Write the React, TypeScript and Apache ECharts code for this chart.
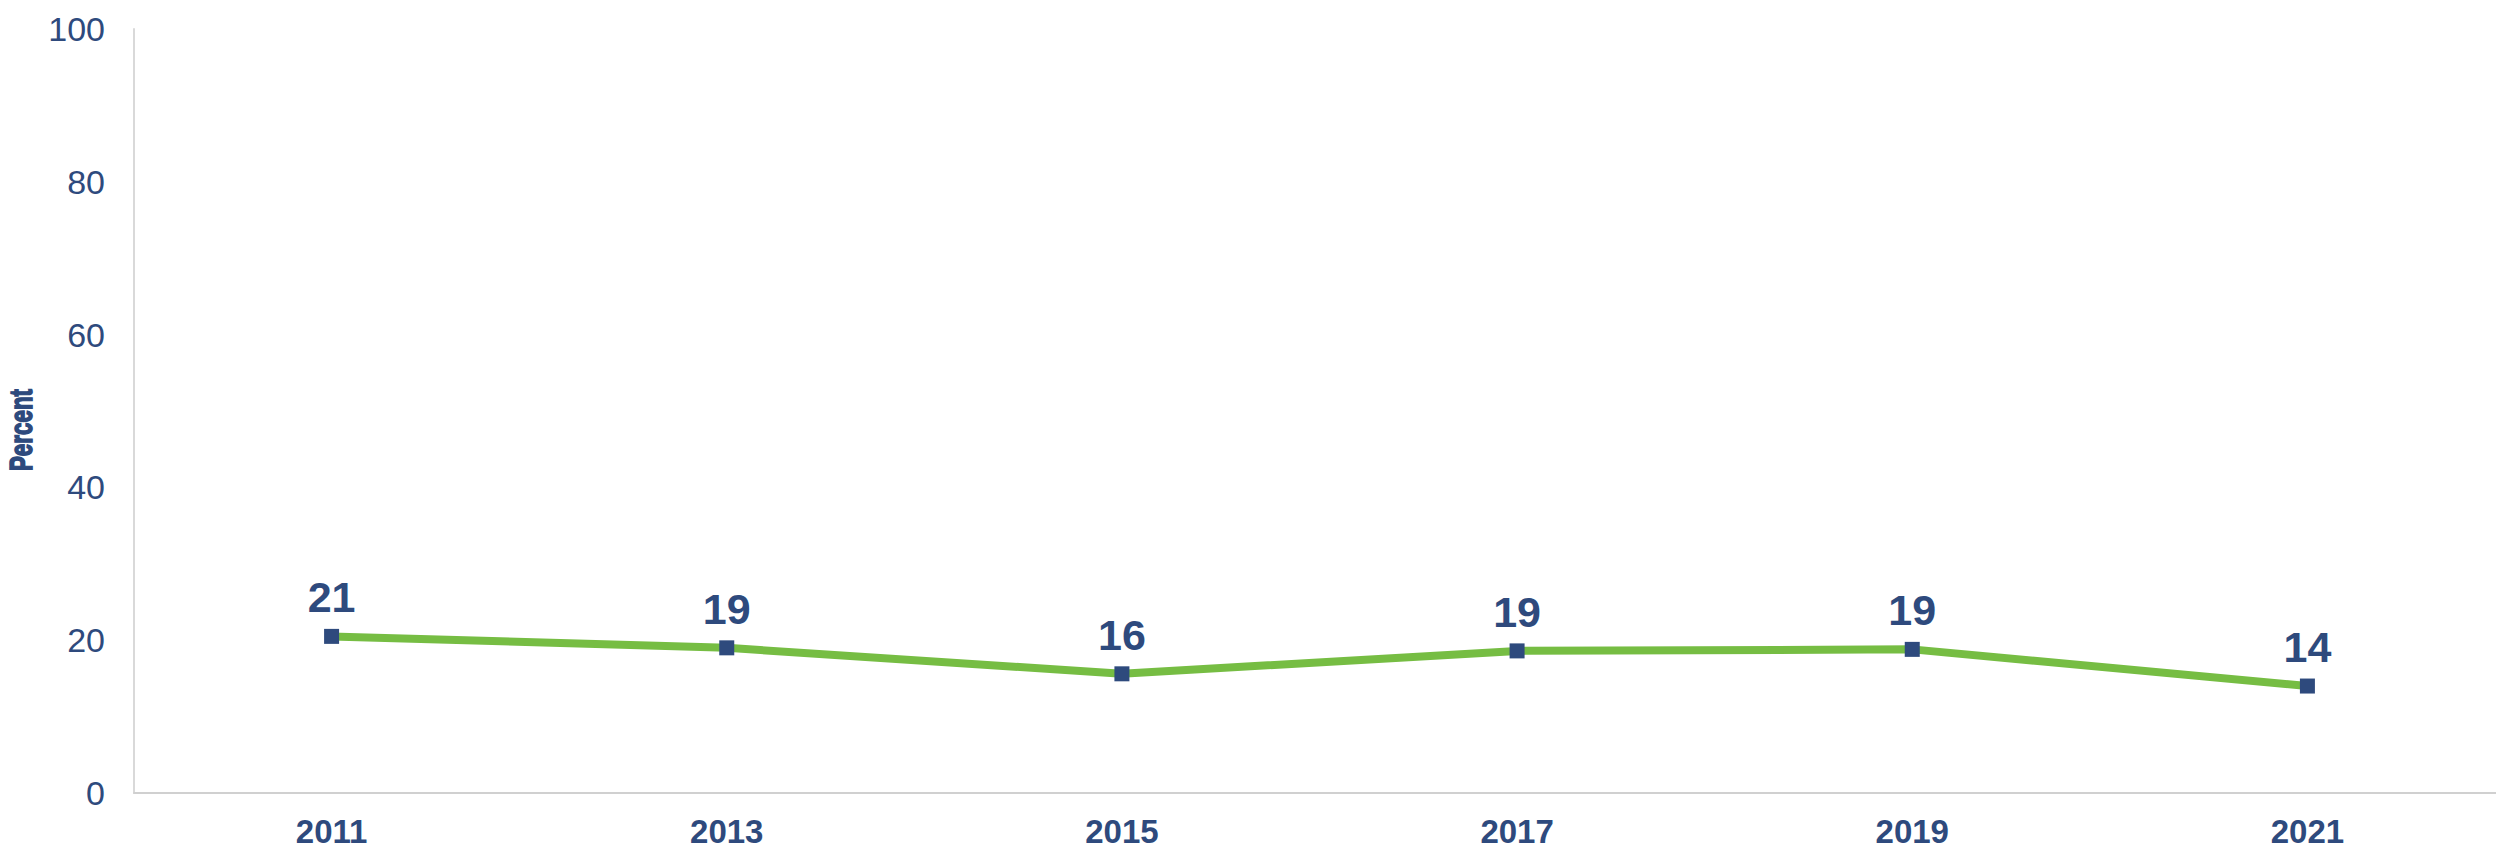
import React, { useEffect, useRef } from "react";
import * as echarts from "echarts";

const years = ["2011", "2013", "2015", "2017", "2019", "2021"];
const values = [20.5, 19.0, 15.6, 18.6, 18.8, 14.0];
const valueLabels = ["21", "19", "16", "19", "19", "14"];
const yTicks = [0, 20, 40, 60, 80, 100];
const yAxisTitle = "Percent";

const NAVY = "#2E4A7D";
const GREEN = "#76BD43";
const FONT = "'Liberation Sans', Arial, sans-serif";

export default function App() {
  const ref = useRef<HTMLDivElement>(null);
  useEffect(() => {
    document.body.style.margin = "0";
    document.body.style.overflow = "hidden";
    document.documentElement.style.overflow = "hidden";
    const chart = echarts.init(ref.current!, null, { renderer: "svg" });
    chart.setOption({
      animation: false,
      backgroundColor: "#ffffff",
      grid: { left: 134, right: 0, top: 29, bottom: 58, containLabel: false },
      xAxis: {
        type: "category",
        data: years,
        boundaryGap: true,
        axisLine: { show: true, lineStyle: { color: "#D0D0D0", width: 2 } },
        axisTick: { show: false },
        axisLabel: {
          color: NAVY,
          fontFamily: FONT,
          fontWeight: "bold",
          fontSize: 33,
          margin: 22,
        },
        splitLine: { show: false },
      },
      yAxis: {
        type: "value",
        min: yTicks[0],
        max: yTicks[yTicks.length - 1],
        interval: 20,
        axisLine: { show: true, lineStyle: { color: "#D9D9D9", width: 2 } },
        axisTick: { show: false },
        splitLine: { show: false },
        axisLabel: {
          color: NAVY,
          fontFamily: FONT,
          fontSize: 34,
          margin: 29,
        },
      },
      graphic: [
        {
          type: "text",
          x: 21,
          y: 430,
          rotation: Math.PI / 2,
          scaleX: 0.7,
          style: {
            text: yAxisTitle,
            fill: NAVY,
            stroke: NAVY,
            lineWidth: 1.6,
            font: `bold 32px ${FONT}`,
            align: "center",
            verticalAlign: "middle",
          },
        },
      ],
      series: [
        {
          type: "line",
          data: values,
          symbol: "rect",
          symbolSize: 15,
          itemStyle: { color: NAVY },
          lineStyle: { color: GREEN, width: 8 },
          z: 3,
          label: {
            show: true,
            position: "top",
            distance: 10,
            color: NAVY,
            fontFamily: FONT,
            fontWeight: "bold",
            fontSize: 43,
            formatter: (p: any) => valueLabels[p.dataIndex],
          },
        },
      ],
    });
    return () => chart.dispose();
  }, []);
  return <div ref={ref} style={{ width: 2505, height: 851 }} />;
}
